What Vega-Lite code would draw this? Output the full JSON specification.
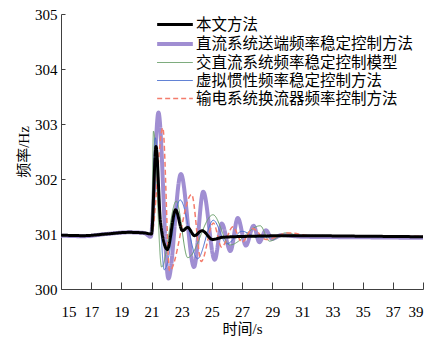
{
  "$schema": "https://vega.github.io/schema/vega-lite/v6.json",
  "width": 362,
  "height": 275,
  "autosize": "none",
  "padding": {"left": 61, "top": 14, "right": 15, "bottom": 49},
  "config": {
    "view": {"stroke": null},
    "axis": {
      "domainColor": "#404040",
      "tickColor": "#404040",
      "grid": false,
      "labelFont": "Liberation Serif",
      "labelFontSize": 15,
      "labelColor": "#000000",
      "titleFont": "Liberation Serif, Noto Sans CJK SC",
      "titleFontSize": 15,
      "titleFontWeight": "normal",
      "titleColor": "#000000"
    },
    "legend": {
      "orient": "none",
      "legendX": 103,
      "legendY": 0,
      "padding": 0,
      "symbolType": "M-2.06,0H2.06",
      "symbolSize": 300,
      "labelFont": "Liberation Serif, Noto Sans CJK SC",
      "labelFontSize": 15.5,
      "labelColor": "#000000",
      "labelOffset": 10,
      "labelLimit": 400,
      "rowPadding": 0
    }
  },
  "data": {
    "values": [
      {"s": "直流系统送端频率稳定控制方法", "t": 15, "f": 300.97},
      {"s": "直流系统送端频率稳定控制方法", "t": 16.5, "f": 300.96},
      {"s": "直流系统送端频率稳定控制方法", "t": 18, "f": 301.0},
      {"s": "直流系统送端频率稳定控制方法", "t": 19.5, "f": 301.03},
      {"s": "直流系统送端频率稳定控制方法", "t": 20.5, "f": 301.02},
      {"s": "直流系统送端频率稳定控制方法", "t": 20.95, "f": 300.95},
      {"s": "直流系统送端频率稳定控制方法", "t": 21.46, "f": 303.21},
      {"s": "直流系统送端频率稳定控制方法", "t": 22.12, "f": 300.19},
      {"s": "直流系统送端频率稳定控制方法", "t": 22.95, "f": 302.09},
      {"s": "直流系统送端频率稳定控制方法", "t": 23.82, "f": 300.4},
      {"s": "直流系统送端频率稳定控制方法", "t": 24.43, "f": 301.77},
      {"s": "直流系统送端频率稳定控制方法", "t": 25.19, "f": 300.53},
      {"s": "直流系统送端频率稳定控制方法", "t": 25.66, "f": 301.19},
      {"s": "直流系统送端频率稳定控制方法", "t": 26.23, "f": 300.69},
      {"s": "直流系统送端频率稳定控制方法", "t": 26.72, "f": 301.29},
      {"s": "直流系统送端频率稳定控制方法", "t": 27.26, "f": 300.79},
      {"s": "直流系统送端频率稳定控制方法", "t": 27.77, "f": 301.15},
      {"s": "直流系统送端频率稳定控制方法", "t": 28.15, "f": 300.85},
      {"s": "直流系统送端频率稳定控制方法", "t": 28.58, "f": 301.07},
      {"s": "直流系统送端频率稳定控制方法", "t": 29.0, "f": 300.91},
      {"s": "直流系统送端频率稳定控制方法", "t": 29.6, "f": 300.98},
      {"s": "直流系统送端频率稳定控制方法", "t": 31, "f": 300.95},
      {"s": "直流系统送端频率稳定控制方法", "t": 35, "f": 300.94},
      {"s": "直流系统送端频率稳定控制方法", "t": 39, "f": 300.93},

      {"s": "交直流系统频率稳定控制模型", "t": 15, "f": 300.98},
      {"s": "交直流系统频率稳定控制模型", "t": 16.5, "f": 300.97},
      {"s": "交直流系统频率稳定控制模型", "t": 18, "f": 300.99},
      {"s": "交直流系统频率稳定控制模型", "t": 19.5, "f": 301.02},
      {"s": "交直流系统频率稳定控制模型", "t": 20.5, "f": 301.02},
      {"s": "交直流系统频率稳定控制模型", "t": 21.0, "f": 301.0},
      {"s": "交直流系统频率稳定控制模型", "t": 21.13, "f": 302.87},
      {"s": "交直流系统频率稳定控制模型", "t": 21.67, "f": 300.4},
      {"s": "交直流系统频率稳定控制模型", "t": 22.64, "f": 301.6},
      {"s": "交直流系统频率稳定控制模型", "t": 23.4, "f": 300.57},
      {"s": "交直流系统频率稳定控制模型", "t": 25.08, "f": 301.35},
      {"s": "交直流系统频率稳定控制模型", "t": 26.19, "f": 300.8},
      {"s": "交直流系统频率稳定控制模型", "t": 28.21, "f": 301.15},
      {"s": "交直流系统频率稳定控制模型", "t": 28.82, "f": 300.87},
      {"s": "交直流系统频率稳定控制模型", "t": 29.9, "f": 301.02},
      {"s": "交直流系统频率稳定控制模型", "t": 31, "f": 300.96},
      {"s": "交直流系统频率稳定控制模型", "t": 39, "f": 300.95},

      {"s": "虚拟惯性频率稳定控制方法", "t": 15, "f": 300.98},
      {"s": "虚拟惯性频率稳定控制方法", "t": 16.5, "f": 300.97},
      {"s": "虚拟惯性频率稳定控制方法", "t": 18, "f": 301.0},
      {"s": "虚拟惯性频率稳定控制方法", "t": 19.5, "f": 301.03},
      {"s": "虚拟惯性频率稳定控制方法", "t": 20.5, "f": 301.02},
      {"s": "虚拟惯性频率稳定控制方法", "t": 21.0, "f": 301.0},
      {"s": "虚拟惯性频率稳定控制方法", "t": 21.25, "f": 302.75},
      {"s": "虚拟惯性频率稳定控制方法", "t": 21.85, "f": 300.35},
      {"s": "虚拟惯性频率稳定控制方法", "t": 22.9, "f": 301.62},
      {"s": "虚拟惯性频率稳定控制方法", "t": 24.05, "f": 300.55},
      {"s": "虚拟惯性频率稳定控制方法", "t": 25.1, "f": 301.25},
      {"s": "虚拟惯性频率稳定控制方法", "t": 26.0, "f": 300.82},
      {"s": "虚拟惯性频率稳定控制方法", "t": 27.0, "f": 301.05},
      {"s": "虚拟惯性频率稳定控制方法", "t": 28.0, "f": 300.94},
      {"s": "虚拟惯性频率稳定控制方法", "t": 30, "f": 300.96},
      {"s": "虚拟惯性频率稳定控制方法", "t": 39, "f": 300.94},

      {"s": "输电系统换流器频率控制方法", "t": 15, "f": 300.98},
      {"s": "输电系统换流器频率控制方法", "t": 16.5, "f": 300.97},
      {"s": "输电系统换流器频率控制方法", "t": 18, "f": 301.0},
      {"s": "输电系统换流器频率控制方法", "t": 19.5, "f": 301.03},
      {"s": "输电系统换流器频率控制方法", "t": 20.5, "f": 301.02},
      {"s": "输电系统换流器频率控制方法", "t": 21.0, "f": 301.0},
      {"s": "输电系统换流器频率控制方法", "t": 21.75, "f": 302.93},
      {"s": "输电系统换流器频率控制方法", "t": 22.2, "f": 300.33},
      {"s": "输电系统换流器频率控制方法", "t": 23.66, "f": 301.72},
      {"s": "输电系统换流器频率控制方法", "t": 24.3, "f": 300.5},
      {"s": "输电系统换流器频率控制方法", "t": 25.1, "f": 301.2},
      {"s": "输电系统换流器频率控制方法", "t": 25.65, "f": 300.76},
      {"s": "输电系统换流器频率控制方法", "t": 26.4, "f": 301.13},
      {"s": "输电系统换流器频率控制方法", "t": 27.0, "f": 300.85},
      {"s": "输电系统换流器频率控制方法", "t": 27.7, "f": 301.1},
      {"s": "输电系统换流器频率控制方法", "t": 28.6, "f": 300.9},
      {"s": "输电系统换流器频率控制方法", "t": 30.1, "f": 301.02},
      {"s": "输电系统换流器频率控制方法", "t": 31.5, "f": 300.97},
      {"s": "输电系统换流器频率控制方法", "t": 39, "f": 300.96},

      {"s": "本文方法", "t": 15, "f": 300.98},
      {"s": "本文方法", "t": 16.5, "f": 300.97},
      {"s": "本文方法", "t": 18, "f": 301.0},
      {"s": "本文方法", "t": 19.5, "f": 301.03},
      {"s": "本文方法", "t": 20.5, "f": 301.02},
      {"s": "本文方法", "t": 21.0, "f": 301.0},
      {"s": "本文方法", "t": 21.3, "f": 302.59},
      {"s": "本文方法", "t": 21.6, "f": 301.2},
      {"s": "本文方法", "t": 22.05, "f": 300.72},
      {"s": "本文方法", "t": 22.6, "f": 301.44},
      {"s": "本文方法", "t": 23.05, "f": 301.06},
      {"s": "本文方法", "t": 23.4, "f": 301.12},
      {"s": "本文方法", "t": 23.85, "f": 300.97},
      {"s": "本文方法", "t": 24.35, "f": 301.06},
      {"s": "本文方法", "t": 25.05, "f": 300.9},
      {"s": "本文方法", "t": 25.7, "f": 300.94},
      {"s": "本文方法", "t": 27.8, "f": 300.96},
      {"s": "本文方法", "t": 30.6, "f": 300.97},
      {"s": "本文方法", "t": 35, "f": 300.96},
      {"s": "本文方法", "t": 39, "f": 300.95}
    ]
  },
  "mark": {"type": "line", "interpolate": "monotone", "clip": true},
  "encoding": {
    "x": {
      "field": "t",
      "type": "quantitative",
      "scale": {"domain": [15, 39], "nice": false, "zero": false},
      "axis": {
        "title": "时间/s",
        "values": [15, 17, 19, 21, 23, 25, 27, 29, 31, 33, 35, 37, 39],
        "tickSize": -7,
        "labelPadding": 22,
        "titlePadding": 2
      }
    },
    "y": {
      "field": "f",
      "type": "quantitative",
      "scale": {"domain": [300, 305], "nice": false, "zero": false},
      "axis": {
        "title": "频率/Hz",
        "values": [300, 301, 302, 303, 304, 305],
        "tickSize": -4,
        "labelPadding": 8,
        "titlePadding": 3
      }
    },
    "color": {
      "field": "s",
      "type": "nominal",
      "title": null,
      "scale": {
        "domain": ["本文方法", "直流系统送端频率稳定控制方法", "交直流系统频率稳定控制模型", "虚拟惯性频率稳定控制方法", "输电系统换流器频率控制方法"],
        "range": ["#000000", "#a08ed2", "#6a9f6a", "#4a6fcf", "#f47c6c"]
      }
    },
    "strokeWidth": {
      "field": "s",
      "type": "nominal",
      "title": null,
      "scale": {
        "type": "ordinal",
        "domain": ["本文方法", "直流系统送端频率稳定控制方法", "交直流系统频率稳定控制模型", "虚拟惯性频率稳定控制方法", "输电系统换流器频率控制方法"],
        "range": [3, 4, 1, 1, 1.5]
      }
    },
    "strokeDash": {
      "field": "s",
      "type": "nominal",
      "title": null,
      "scale": {
        "domain": ["本文方法", "直流系统送端频率稳定控制方法", "交直流系统频率稳定控制模型", "虚拟惯性频率稳定控制方法", "输电系统换流器频率控制方法"],
        "range": [[1, 0], [1, 0], [1, 0], [1, 0], [5, 3]]
      }
    }
  }
}
